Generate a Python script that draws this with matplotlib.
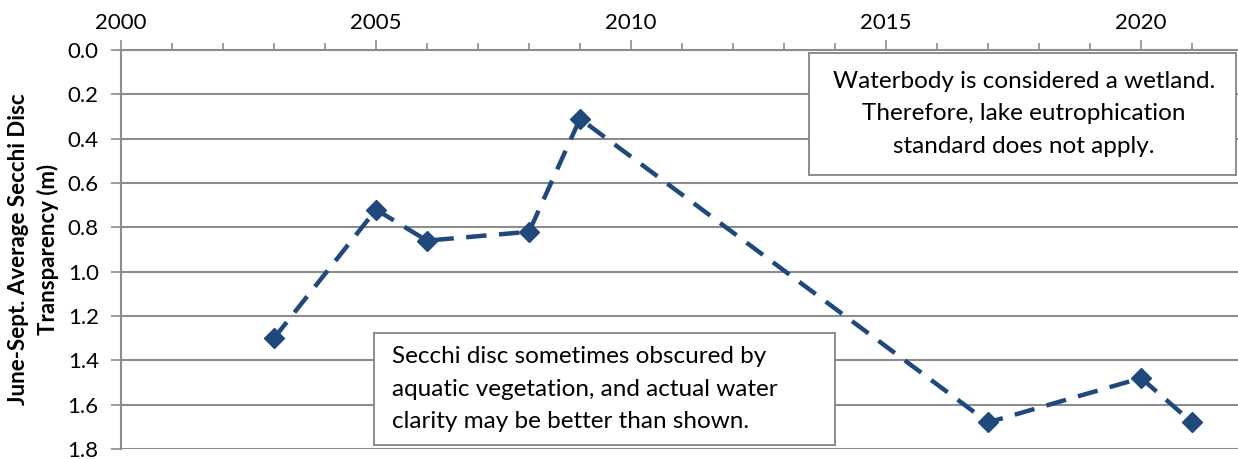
import numpy as np
import matplotlib.pyplot as plt
from matplotlib.ticker import MultipleLocator
from matplotlib.patches import Rectangle

# -- Donnees
years = [2003, 2005, 2006, 2008, 2009, 2017, 2020, 2021]
secchi = [1.30, 0.72, 0.86, 0.82, 0.31, 1.68, 1.48, 1.68]
yticks = [0.0, 0.2, 0.4, 0.6, 0.8, 1.0, 1.2, 1.4, 1.6, 1.8]
xticks = [2000, 2005, 2010, 2015, 2020]

note_top = "Waterbody is considered a wetland.\nTherefore, lake eutrophication\nstandard does not apply."
note_bottom = "Secchi disc sometimes obscured by\naquatic vegetation, and actual water\nclarity may be better than shown."

plt.rcParams['font.family'] = ['Lato', 'DejaVu Sans']
grid_col = '#8c8c8c'
line_col = '#1f497d'
W, H = 1238, 459

fig = plt.figure(figsize=(W / 100, H / 100), dpi=100)
ax = fig.add_axes([121 / W, 1 - 449 / H, 1 - 121 / W, 399 / H])

ax.plot(years, secchi, color=line_col, lw=3.2, ls=(0, (4.6, 2.8)),
        marker='D', ms=10.5, mfc=line_col, mec=line_col, zorder=3)

ax.set_xlim(2000, 2021.9)
ax.set_ylim(1.8, 0.0)
ax.set_yticks(yticks)
ax.set_yticklabels([f"{v:.1f}" for v in yticks])
ax.set_xticks(xticks)
ax.xaxis.set_minor_locator(MultipleLocator(1))
ax.xaxis.tick_top()
ax.tick_params(axis='x', which='major', length=7, width=1.2, color=grid_col,
               labelsize=16, pad=5)
ax.tick_params(axis='x', which='minor', length=5, width=1.2, color=grid_col)
ax.tick_params(axis='y', length=7, width=1.2, color=grid_col, labelsize=16, pad=9)

ax.yaxis.grid(True, color=grid_col, lw=1.5)
ax.set_axisbelow(True)
for s in ['right', 'bottom']:
    ax.spines[s].set_visible(False)
for s in ['left', 'top']:
    ax.spines[s].set_color(grid_col)
    ax.spines[s].set_linewidth(1.5)

ax.set_ylabel("June-Sept. Average Secchi Disc\nTransparency (m)", fontsize=16,
              fontweight='bold', labelpad=6, linespacing=1.45)


# -- Encadres de notes (coordonnees en pixels de la figure)
def note(x0, y0, x1, y1, txt, tx, ha):
    fig.patches.append(Rectangle((x0 / W, 1 - y1 / H), (x1 - x0) / W, (y1 - y0) / H,
                                 transform=fig.transFigure, fc='white',
                                 ec=grid_col, lw=1.4, zorder=4))
    fig.text(tx / W, 1 - (y0 + y1) / 2 / H, txt, ha=ha, va='center',
             fontsize=17.5, linespacing=1.65, zorder=5)


note(809, 53, 1236, 175, note_top, 1024, 'center')
note(374, 333, 835, 445, note_bottom, 392, 'left')

fig.savefig("out.png", dpi=100)
